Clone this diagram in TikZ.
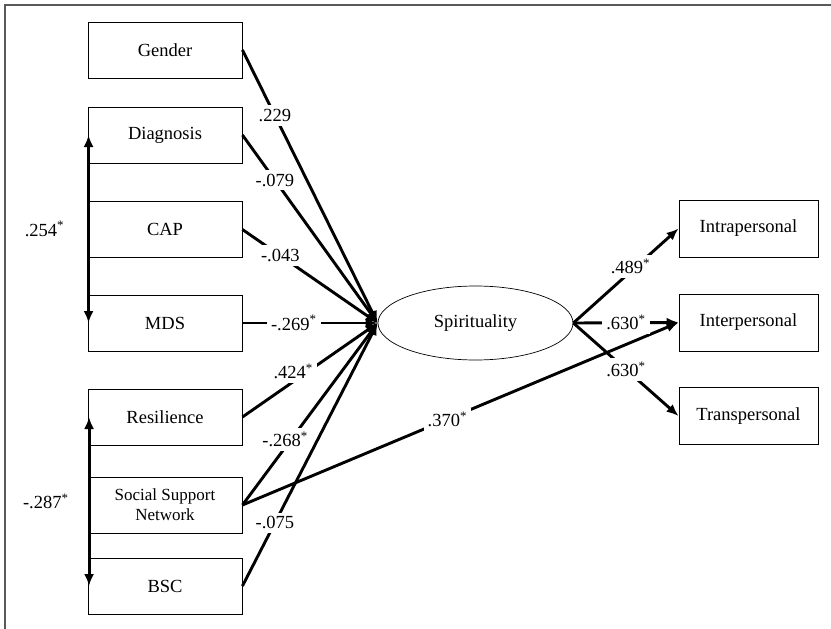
\documentclass[tikz,border=0pt]{standalone}
\usepackage{fontspec}
\setmainfont{Liberation Serif}
\usetikzlibrary{arrows.meta,shapes.geometric}
\tikzset{
  var/.style={draw, line width=0.9pt, minimum height=56pt, inner sep=0pt,
    font=\fontsize{18.5}{21}\selectfont},
  link/.style={line width=2.9pt, -{Latex[length=12pt,width=10pt]}},
  corr/.style={line width=2.9pt, {Latex[length=12pt,width=10pt]}-{Latex[length=12pt,width=10pt]}},
  coef/.style={fill=white, inner xsep=4pt, inner ysep=4pt, font=\fontsize{18.5}{21}\selectfont},
}
\newcommand{\sig}{\textsuperscript{*}}
\begin{document}
\begin{tikzpicture}[x=1pt, y=-1pt]
    \useasboundingbox (0,0) rectangle (831,629);
    \draw [line width=1.2pt, gray!70!black] (5,629) -- (5,5) -- (831,5);% open frame
    % predictors
    \node[var, minimum width=154pt] (gender) at (165,50) {Gender};
    \node[var, minimum width=154pt] (diag) at (165,135) {Diagnosis};
    \node[var, minimum width=154pt] (cap) at (165,229.5) {CAP};
    \node[var, minimum width=154pt] (mds) at (165,323) {MDS};
    \node[var, minimum width=154pt] (resil) at (165,417) {Resilience};
    \node[var, minimum width=154pt, align=center, font=\fontsize{17}{20}\selectfont]
        (ssn) at (165,505) {Social Support\\Network};
    \node[var, minimum width=154pt] (bsc) at (165,586) {BSC};
    % latent factor and its dimensions
    \node[var, ellipse, line width=0.7pt, minimum width=195pt, minimum height=74pt]
        (spirit) at (475.5,323) {Spirituality};
    \node[var, minimum width=139pt, minimum height=57pt] (intra) at (748.5,228.5) {Intrapersonal};
    \node[var, minimum width=139pt, minimum height=57pt] (inter) at (748.5,322.5) {Interpersonal};
    \node[var, minimum width=139pt, minimum height=57pt] (trans) at (748.5,416) {Transpersonal};
    % paths into spirituality
    \draw [link] (gender.east) -- (spirit.west) node[coef, pos=.24] (pg) {.229};
    \draw [link] (diag.east) -- (spirit.west) node[coef, pos=.24] (pd) {-.079};
    \draw [link] (cap.east) -- (spirit.west) node[coef, pos=.28] (pc) {-.043};
    \draw [link] (mds.east) -- (spirit.west) node[coef, pos=.38] (pm) {-.269\sig};
    \draw [link] (resil.east) -- (spirit.west) node[coef, pos=.42, xshift=-6pt, yshift=6pt] (pr) {.424\sig};
    \draw [link] (ssn.east) -- (spirit.west) node[coef, pos=.36, xshift=-6pt] (ps) {-.268\sig};
    \draw [link] (bsc.east) -- (spirit.west) node[coef, pos=.24] (pb) {-.075};
    \draw [link] (ssn.east) -- (inter.west) node[coef, pos=.47] (px) {.370\sig};
    % loadings
    \draw [link] (spirit.east) -- (intra.west) node[coef, pos=.6, xshift=-6pt] (l1) {.489\sig};
    \draw [link] (spirit.east) -- (inter.west) node[coef, pos=.5] (l2) {.630\sig};
    \draw [link] (spirit.east) -- (trans.west) node[coef, pos=.5] (l3) {.630\sig};
    % correlations
    \draw [corr] ([xshift=1pt]diag.west) -- ([xshift=1pt]mds.west)
        node[coef, fill=none, midway, left=19pt] (r1) {.254\sig};
    \draw [corr] ([xshift=1.5pt]resil.west) -- ([xshift=1.5pt]bsc.west)
        node[coef, fill=none, midway, left=15pt] (r2) {-.287\sig};
\end{tikzpicture}
\end{document}
